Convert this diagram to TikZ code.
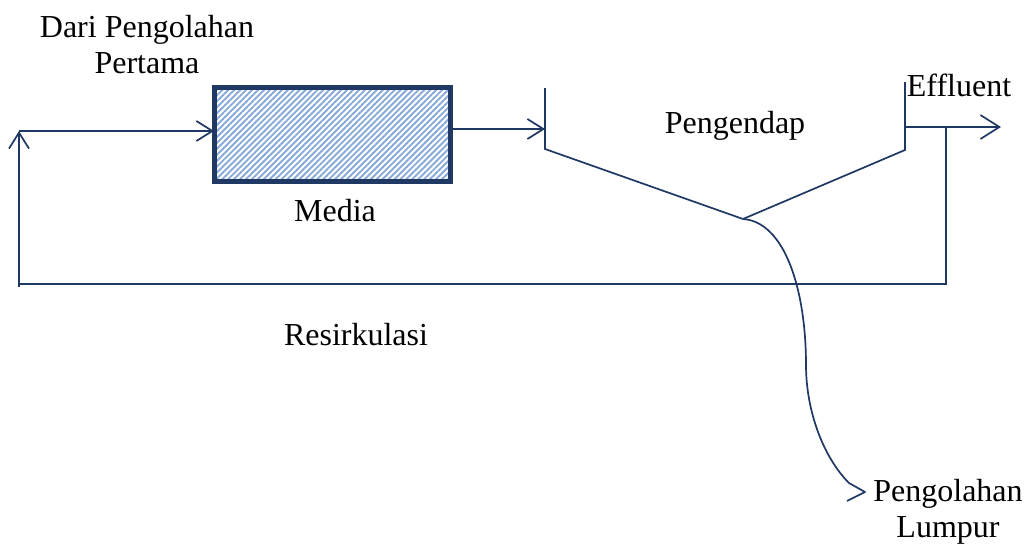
\documentclass[tikz,border=0pt]{standalone}
\usepackage{fontspec}
\setmainfont{Liberation Serif}
\usetikzlibrary{arrows.meta,patterns.meta}
\definecolor{ln}{HTML}{1F3864}
\definecolor{hat}{HTML}{86A9D8}
\tikzset{x=1pt,y=-1pt,
 conn/.style={draw=ln,line width=1.7pt},
 tip/.style={conn,-{Straight Barb[length=16pt,width=20pt,line width=1.7pt]}},
 bigtip/.style={conn,-{Straight Barb[length=19pt,width=24pt,line width=1.7pt]}},
 lbl/.style={font=\fontsize{32}{36}\selectfont,text=black,inner sep=0pt,align=center}}
\begin{document}
\begin{tikzpicture}
\useasboundingbox (0,0) rectangle (1028,544);
\fill[white] (0,0) rectangle (1028,544);
\node[lbl] (dari) at (147,44.5) {Dari Pengolahan\\Pertama};
\node[lbl] (media) at (335,211) {Media};
\node[lbl] (peng) at (735,126) {Pengendap};
\node[lbl] (eff) at (959,85) {Effluent};
\node[lbl] (res) at (356,335) {Resirkulasi};
\node[lbl] (lum) at (948,512) {Pengolahan\\Lumpur};
\node[draw=ln,line width=5pt,outer sep=0pt,preaction={fill=white},preaction={pattern={Lines[angle=45,distance=4.2pt,line width=1.9pt]},pattern color=hat},minimum width=236pt,minimum height=94pt,inner sep=0pt,anchor=north west] (box) at (214,87) {};
\coordinate (a) at (19,287);
\coordinate (b) at (19,131);
\coordinate (c) at (545,129);
\coordinate (t1) at (545,88);
\coordinate (b1) at (545,149);
\coordinate (mid) at (743,219);
\coordinate (t2) at (905,82);
\coordinate (b2) at (905,150);
\coordinate (o) at (1001,127);
\coordinate (d) at (905,127);
\coordinate (e) at (946,127);
\coordinate (f) at (946,284);
\coordinate (g) at (19,284);
\coordinate (h1) at (849,483);
\coordinate (h) at (865,492);
\coordinate (h2) at (847,501);
\draw[tip] (a) -- (b);
\draw[tip] (b) -- (box.west |- b);
\draw[tip] (box.east |- c) -- (c);
\draw[conn] (t1) -- (b1) -- (mid);
\draw[conn] (t2) -- (b2) -- (mid);
\draw[bigtip] (d) -- (o);
\draw[conn] (e) -- (f) -- (g);
\draw[conn,line join=round] (mid) .. controls (785,222) and (806,290) .. (806,365) .. controls (806,412) and (824,458) .. (h1) -- (h) -- (h2);
\end{tikzpicture}
\end{document}
